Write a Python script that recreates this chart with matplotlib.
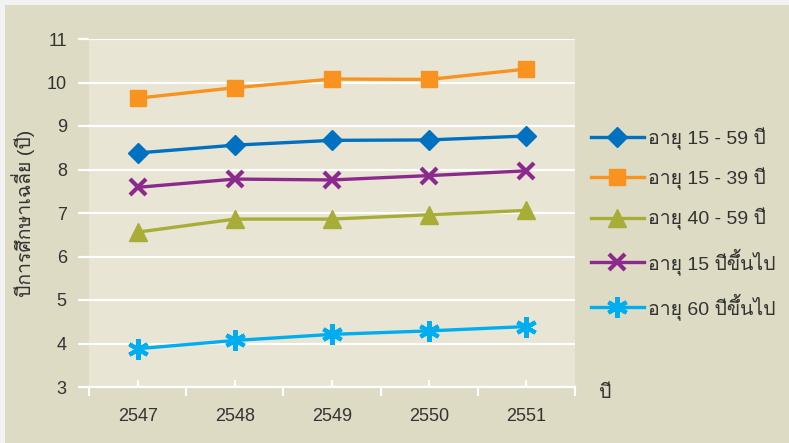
import matplotlib
matplotlib.use('Agg')
import matplotlib.pyplot as plt
from matplotlib.patches import Rectangle

# Data (average years of schooling)
years = ['2547', '2548', '2549', '2550', '2551']
age_15_59 = [8.38, 8.56, 8.67, 8.68, 8.77]
age_15_39 = [9.64, 9.88, 10.08, 10.07, 10.31]
age_40_59 = [6.56, 6.86, 6.86, 6.96, 7.06]
age_15_up = [7.59, 7.78, 7.76, 7.86, 7.97]
age_60_up = [3.88, 4.07, 4.21, 4.29, 4.39]

labels = ['อายุ 15 - 59 ปี', 'อายุ 15 - 39 ปี', 'อายุ 40 - 59 ปี',
          'อายุ 15 ปีขึ้นไป', 'อายุ 60 ปีขึ้นไป']

plt.rcParams['font.family'] = ['Liberation Sans', 'Loma', 'DejaVu Sans']

fig = plt.figure(figsize=(7.89, 4.43), dpi=100, facecolor='#f2f2f2')
fig.patches.append(Rectangle((5/789, 0), 1, 1 - 5/443, transform=fig.transFigure,
                             facecolor='#dddbc3', edgecolor='none', zorder=-10))
ax = fig.add_axes([89/789, 56/443, 486/789, 348/443])
ax.set_facecolor('#e8e5d5')

x = list(range(len(years)))
lw = 2.4
ax.plot(x, age_15_59, color='#0070c0', lw=lw, marker='D', ms=10, label=labels[0])
ax.plot(x, age_15_39, color='#f7931e', lw=lw, marker='s', ms=12, label=labels[1])
ax.plot(x, age_40_59, color='#a8ad38', lw=lw, marker='^', ms=13, label=labels[2])
ax.plot(x, age_15_up, color='#8b2a8c', lw=lw, marker='x', ms=12, mew=3, label=labels[3])
ax.plot(x, age_60_up, color='#00aeef', lw=lw, marker=(6, 2, 0), ms=15, mew=3, label=labels[4])

ax.set_xlim(-0.5, 4.5)
ax.set_ylim(3, 11)
ax.set_yticks(range(3, 12))
ax.set_xticks(x)
ax.set_xticklabels(years)
ax.set_xticks([i - 0.5 for i in range(6)], minor=True)
ax.yaxis.grid(True, color='white', lw=1.6)
ax.set_axisbelow(True)
for s in ['top', 'right', 'left']:
    ax.spines[s].set_visible(False)
ax.spines['bottom'].set_color('white')
ax.spines['bottom'].set_linewidth(1.6)

ax.tick_params(axis='y', colors='white', length=8, width=1.6, pad=8,
               labelcolor='#333333', labelsize=13)
ax.tick_params(axis='x', which='major', direction='in', colors='white', length=5,
               width=1.6, pad=15, labelcolor='#333333', labelsize=13)
ax.tick_params(axis='x', which='minor', direction='out', colors='white', length=6.5,
               width=1.6)

ax.set_ylabel('ปีการศึกษาเฉลี่ย (ปี)', fontsize=14, color='#333333')
ax.yaxis.set_label_coords((35 - 89) / 486, 0.5)
fig.text(605/789, 1 - 393/443, 'ปี', fontsize=14, color='#333333',
         ha='center', va='center')

ax.legend(loc='center left', bbox_to_anchor=(1.0, 0.47), frameon=False,
          fontsize=14, handlelength=2.75, labelspacing=0.92, labelcolor='#333333',
          handletextpad=0.2, borderaxespad=0.4)

fig.savefig('out.png', dpi=100, facecolor=fig.get_facecolor())
